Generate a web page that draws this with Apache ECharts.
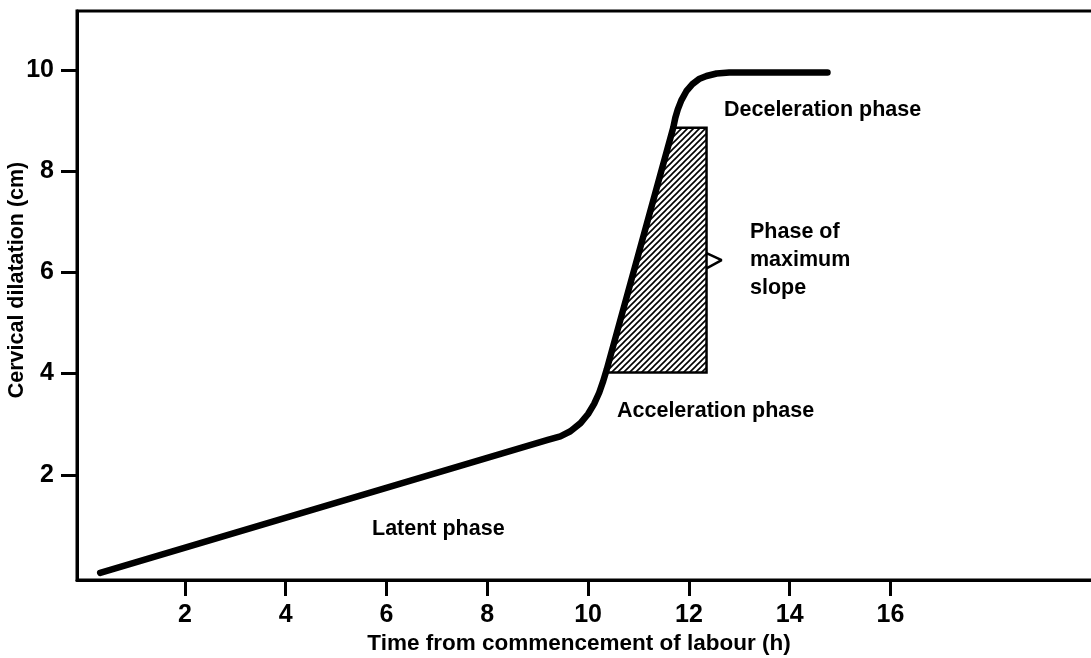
<!DOCTYPE html>
<html lang="en">

<head>
    <meta charset="UTF-8">
    <title>Cervical dilatation</title>
    <style>
        body { margin: 0; background: #fff; }
    </style>
</head>

<body>
    <div id="main" style="width:1091px;height:658px;"></div>
</body>
<script src="https://cdn.jsdelivr.net/npm/echarts@6/dist/echarts.min.js"></script>
<script>
    // curve: hours, cm
    var hours = [0.32, 9.2, 9.45, 9.65, 9.85, 10.0, 10.12, 10.22, 10.3, 10.37,
        11.69, 11.73, 11.78, 11.85, 11.95, 12.07, 12.2, 12.35, 12.55, 12.8, 14.75]
    var dilatation = [0.06, 2.69, 2.76, 2.86, 3.02, 3.2, 3.4, 3.62, 3.85, 4.08,
        8.86, 9.05, 9.22, 9.4, 9.58, 9.72, 9.82, 9.88, 9.93, 9.95, 9.95]

    // hatched block of maximum slope
    var slopeX = [10.35, 11.69, 12.35, 12.35]
    var slopeY = [4.02, 8.86, 8.86, 4.02]
    // little pointer on its right side
    var pointerX = [12.35, 12.65, 12.35]
    var pointerY = [6.38, 6.24, 6.08]

    var xTicks = [2, 4, 6, 8, 10, 12, 14, 16]
    var yTicks = [2, 4, 6, 8, 10]

    var font = "'Liberation Sans', Arial, sans-serif"

    function pairs(xs, ys) {
        var out = []
        for (var i = 0; i < xs.length; i++) out.push([xs[i], ys[i]])
        return out
    }

    // diagonal hatch
    var hatch = document.createElement('canvas')
    hatch.width = 6
    hatch.height = 6
    var hc = hatch.getContext('2d')
    hc.fillStyle = '#fff'
    hc.fillRect(0, 0, 6, 6)
    hc.strokeStyle = '#000'
    hc.lineWidth = 1.6
    hc.beginPath()
    hc.moveTo(-1, 7); hc.lineTo(7, -1)
    hc.moveTo(-4, 4); hc.lineTo(4, -4)
    hc.moveTo(2, 10); hc.lineTo(10, 2)
    hc.stroke()

    var myChart = echarts.init(document.getElementById('main'))

    var option = {
        backgroundColor: '#fff',
        animation: false,
        grid: {
            left: 77,
            top: 11,
            right: -20,
            bottom: 78,
            outerBoundsMode: 'none',
            show: true,
            borderColor: '#000',
            borderWidth: 3
        },
        xAxis: {
            type: 'value',
            min: -0.14,
            max: 20.375,
            splitLine: { show: false },
            axisLine: { onZero: false, lineStyle: { color: '#000', width: 3 } },
            axisTick: { customValues: xTicks, length: 16, lineStyle: { color: '#000', width: 3 } },
            axisLabel: {
                customValues: xTicks,
                margin: 23,
                color: '#000',
                fontFamily: font,
                fontWeight: 'bold',
                fontSize: 25
            }
        },
        yAxis: {
            type: 'value',
            min: -0.08,
            max: 11.165,
            splitLine: { show: false },
            axisLine: { onZero: false, lineStyle: { color: '#000', width: 3 } },
            axisTick: { customValues: yTicks, length: 16, lineStyle: { color: '#000', width: 3 } },
            axisLabel: {
                customValues: yTicks,
                margin: 23,
                color: '#000',
                fontFamily: font,
                fontWeight: 'bold',
                fontSize: 25
            }
        },
        graphic: [
            { type: 'text', left: 724, top: 99, style: { text: 'Deceleration phase', font: 'bold 21.5px ' + font, fill: '#000' } },
            { type: 'text', left: 750, top: 221, style: { text: 'Phase of', font: 'bold 21.5px ' + font, fill: '#000' } },
            { type: 'text', left: 750, top: 249, style: { text: 'maximum', font: 'bold 21.5px ' + font, fill: '#000' } },
            { type: 'text', left: 750, top: 277, style: { text: 'slope', font: 'bold 21.5px ' + font, fill: '#000' } },
            { type: 'text', left: 617, top: 400, style: { text: 'Acceleration phase', font: 'bold 21.5px ' + font, fill: '#000' } },
            { type: 'text', left: 372, top: 518, style: { text: 'Latent phase', font: 'bold 21.5px ' + font, fill: '#000' } },
            {
                type: 'text', x: 17, y: 280, rotation: Math.PI / 2,
                style: { text: 'Cervical dilatation (cm)', font: 'bold 21.5px ' + font, fill: '#000', align: 'center', verticalAlign: 'middle' }
            },
            {
                type: 'text', x: 579, y: 644,
                style: { text: 'Time from commencement of labour (h)', font: 'bold 22.5px ' + font, fill: '#000', align: 'center', verticalAlign: 'middle' }
            }
        ],
        series: [{
            type: 'custom',
            z: 2,
            data: [0],
            renderItem: function (params, api) {
                var pts = pairs(slopeX, slopeY).map(function (p) { return api.coord(p) })
                return {
                    type: 'polygon',
                    shape: { points: pts },
                    style: { fill: { image: hatch, repeat: 'repeat' }, stroke: '#000', lineWidth: 2.5 }
                }
            }
        }, {
            type: 'line',
            z: 3,
            data: pairs(pointerX, pointerY),
            symbol: 'none',
            lineStyle: { color: '#000', width: 2.5 }
        }, {
            type: 'line',
            z: 4,
            data: pairs(hours, dilatation),
            symbol: 'none',
            lineStyle: { color: '#000', width: 6.5, cap: 'round', join: 'round' }
        }]
    }

    myChart.setOption(option)
</script>

</html>
